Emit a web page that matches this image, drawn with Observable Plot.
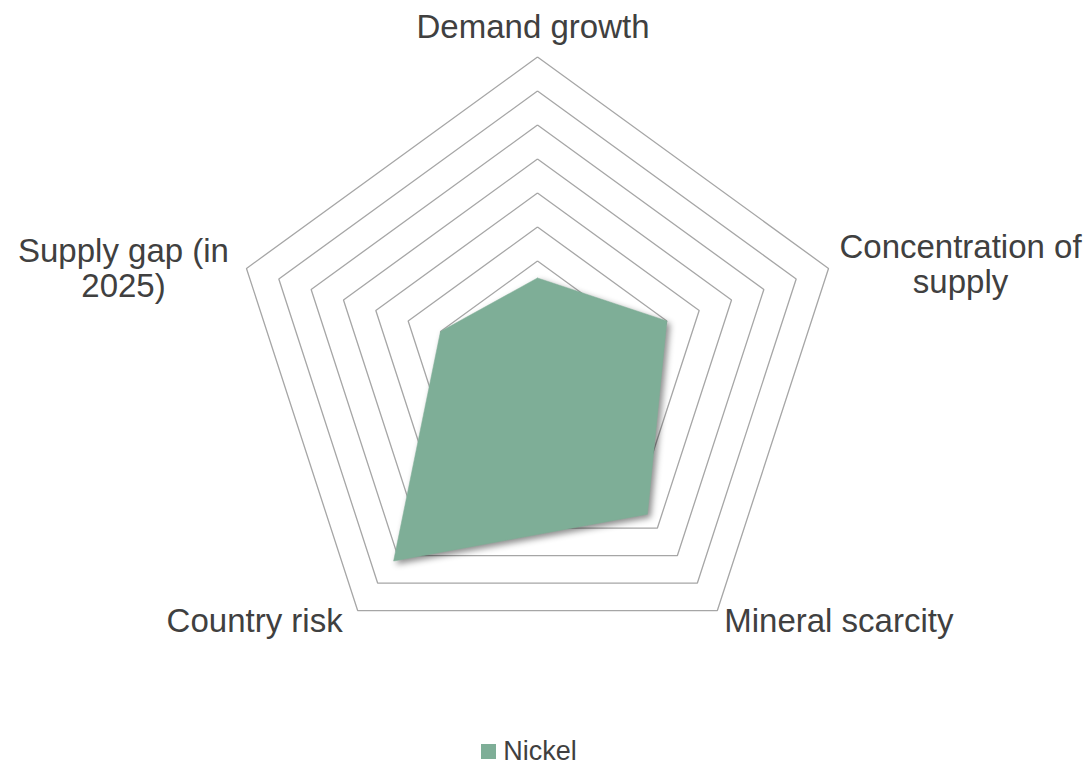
<!DOCTYPE html>
<html>
<head>
<meta charset="utf-8">
<script src="https://cdn.jsdelivr.net/npm/d3@7"></script>
<script src="https://cdn.jsdelivr.net/npm/@observablehq/plot@0.6"></script>
<style>
  html, body { margin: 0; padding: 0; background: #ffffff; }
  body { width: 1090px; height: 766px; overflow: hidden; font-family: "Liberation Sans", Arial, sans-serif; }
  #legend { display: flex; justify-content: center; align-items: center; gap: 7px; height: 30px; margin-top: 6px; padding-right: 32px; color: #404040; font-size: 27px; }
  #legend .sw { width: 15px; height: 15px; background: #7EAE97; }
</style>
</head>
<body>
<div id="chart"></div>
<div id="legend"><span class="sw"></span><span>Nickel</span></div>
<script>
// ---- data ----
const axesLabels = ["Demand growth", "Concentration of\nsupply", "Mineral scarcity", "Country risk", "Supply gap (in\n2025)"];
const nickelValues = [2.5, 4.0, 5.5, 7.2, 3.0];
const ringLevels = [1, 2, 3, 4, 5, 6, 7, 8, 9];
const seriesName = "Nickel";

// ---- layout / style ----
const W = 1090, H = 730;
const unit = 34;            // px per level
const cxPx = 537, cyPx = 362.5;
const maxLevel = 9;
const gridColor = "#a6a6a6";
const fillColor = "#7EAE97";
const textColor = "#404040";
// label pixel offsets from the outer vertex
const labelOffsets = [
  {dx: -4.5, dy: -30},
  {dx: 132, dy: -4},
  {dx: 121.5, dy: 10},
  {dx: -103, dy: 10},
  {dx: -123, dy: 0}
];

const n = axesLabels.length;
const angle = i => Math.PI / 2 - i * 2 * Math.PI / n;
const pt = (i, r) => ({x: r * Math.cos(angle(i)), y: r * Math.sin(angle(i))});

// grid rings (closed polygons)
const rings = ringLevels.flatMap(level =>
  d3.range(n + 1).map(k => ({level, ...pt(k % n, level)}))
);
// nickel polygon (closed)
const nickelPoly = d3.range(n + 1).map(k => ({series: seriesName, ...pt(k % n, nickelValues[k % n])}));
// label anchors at outer vertex
const labelPts = axesLabels.map((label, i) => ({label, ...pt(i, maxLevel)}));

const chart = Plot.plot({
  width: W,
  height: H,
  marginTop: 0, marginRight: 0, marginBottom: 0, marginLeft: 0,
  x: {domain: [-cxPx / unit, (W - cxPx) / unit], axis: null},
  y: {domain: [-(H - cyPx) / unit, cyPx / unit], axis: null},
  style: {background: "#ffffff", fontFamily: "'Liberation Sans', Arial, sans-serif"},
  marks: [
    Plot.line(rings, {x: "x", y: "y", z: "level", stroke: gridColor, strokeWidth: 1.3, strokeLinejoin: "miter", strokeLinecap: "butt"}),
    Plot.line(nickelPoly, {x: "x", y: "y", z: "series", fill: fillColor, stroke: fillColor, strokeWidth: 0.5}),
    ...labelPts.map((d, i) => Plot.text([d], {
      x: "x", y: "y", text: "label",
      dx: labelOffsets[i].dx, dy: labelOffsets[i].dy,
      textAnchor: "middle", lineAnchor: "middle", lineHeight: 1.05,
      fontSize: 33, fill: textColor
    }))
  ]
});
document.getElementById("chart").appendChild(chart);
const lines = chart.querySelectorAll('g[aria-label="line"]');
if (lines.length > 1) lines[1].style.filter = "drop-shadow(3px 3px 3px rgba(0,0,0,0.45))";
</script>
</body>
</html>
